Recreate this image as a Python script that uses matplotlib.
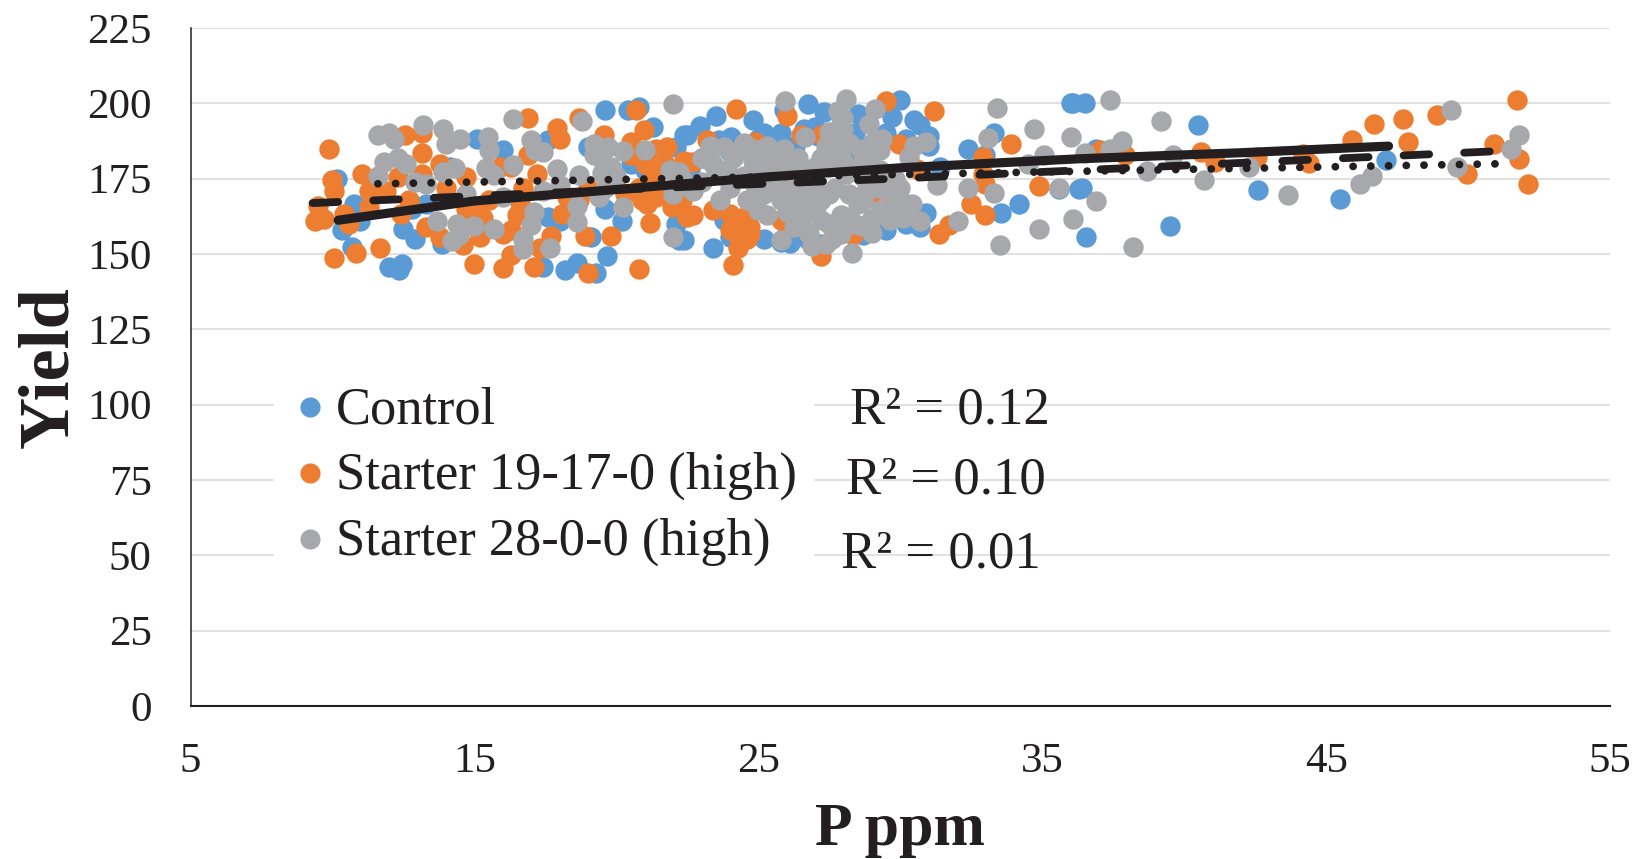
#!/usr/bin/env python3
import matplotlib
matplotlib.use("Agg")
import matplotlib.pyplot as plt
from matplotlib.patches import Rectangle

plt.rcParams["font.family"] = ["Liberation Serif", "DejaVu Sans"]

W, H = 1647, 859

control_x = [10.16, 10.34, 10.98, 10.7, 10.75, 11.98, 12.33, 12.45, 12.9, 12.5, 12.8, 13.3, 13.86, 15.09, 16.0, 14.15,
             17.6, 17.6, 18.0, 17.4, 18.2, 18.6, 19.3, 19.67, 19.6, 20.2, 19.6, 20.4, 20.8, 21.3, 19.1, 19.0, 22.4,
             22.1, 22.1, 22.2, 23.5, 24.8, 26.75, 25.9, 27.3, 28.5, 30.0, 29.7, 30.5, 30.7, 31.0, 22.95, 22.5, 23.6,
             24.05, 25.8, 26.6, 32.4, 33.3, 33.0, 36.0, 31.4, 34.2, 33.55, 36.3, 23.4, 24.0, 25.8, 26.1, 28.7, 29.2,
             30.2, 30.7, 30.9, 22.4, 27.2, 23.8, 35.6, 27.8, 36.1, 36.5, 40.5, 36.9, 36.4, 36.55, 39.5, 42.6, 45.5,
             47.1, 28.0, 28.9, 27.0, 25.2,
             28.1, 29.5, 30.2, 28.4, 27.1, 26.3, 25.0, 24.0, 23.0, 21.0, 22.6, 20.5, 31.0, 26.2, 29.5, 28.2, 25.2, 26.7]
control_y = [175, 157.9, 161, 152.3, 166.7, 145.7, 144.6, 146.8, 155, 158.4, 165, 166.7, 153.4, 188, 184.4, 178.9,
             187.7, 162.3, 161, 145.7, 144.6, 147, 143.7, 149.2, 165, 161, 197.9, 197.7, 198.8, 192.1, 155.6, 185.5,
             189.4, 185.5, 160, 154.5, 195.7, 194.4, 199.7, 197.7, 197, 196.6, 201, 195.5, 194.4, 192.7, 189, 192.4,
             189.4, 187.7, 188.8, 190, 191.6, 184.7, 190.2, 182.7, 200, 178.9, 166.5, 163.7, 171.7, 152, 155.6, 154,
             153.8, 156.2, 159, 160, 159, 163.6, 154.5, 153.4, 161.2, 171.5, 156.7, 200, 200, 192.7, 185, 171.9, 155.6,
             159.2, 171.1, 168.1, 181.1, 190, 186, 192, 190,
             183, 190, 188, 190, 189, 186, 188, 184, 182, 178, 178, 180, 186, 156, 158, 157.5, 155, 155]

starter19_x = [9.87, 10.0, 10.05, 9.5, 9.38, 9.7, 10.05, 10.84, 11.69, 11.04, 11.28, 11.3, 10.6, 10.4, 12.57, 13.16,
               13.16, 12.3, 13.16, 12.4, 13.3, 13.8, 13.8, 14.6, 15.2, 15.0, 16.0, 16.3, 16.9, 17.9, 18.0, 18.7, 16.9,
               17.2, 16.3, 15.9, 16.6, 16.3, 16.0, 17.1, 17.7, 17.3, 19.0, 20.8, 19.55, 19.8, 18.9, 20.7, 20.96, 20.8,
               20.5, 21.05, 21.2, 21.96, 22.5, 21.08, 21.4, 18.1, 18.25, 15.1, 14.7, 21.8, 21.9, 24.2, 26.0, 29.5, 31.2,
               29.94, 26.5, 27.2, 23.2, 24.9, 22.66, 22.37, 24.1, 27.2, 22.7, 23.4, 24.0, 24.6, 24.25, 24.5, 24.0, 24.7,
               25.8, 26.0, 26.25, 27.06, 28.35, 29.0, 31.35, 31.7, 32.5, 33.0, 32.9, 33.0, 32.9, 33.9, 34.9, 30.6,
               37.05, 37.9, 40.6, 41.1, 42.56, 44.2, 44.4, 45.9, 46.7, 47.7, 47.9, 48.9, 49.96, 50.9, 51.74, 51.8, 52.1,
               20.5, 21.0, 21.3, 20.8, 21.5, 22.0, 22.3, 20.9, 21.4, 21.7, 20.0, 20.3, 19.0, 18.7, 18.5, 16.7, 16.5,
               15.3, 14.7, 15.5, 14.0, 12.7, 11.9, 24.2, 24.4, 24.7, 24.3]
starter19_y = [184.7, 174.4, 171, 165.8, 161, 161.7, 148.8, 150.4, 152, 176.7, 171, 165.6, 160, 163.4, 189.6, 190,
               183.5, 175.6, 176.7, 163.4, 159, 180, 155.6, 152.9, 155.6, 146.8, 145.5, 149.6, 195, 191.8, 188, 195,
               182.7, 176.7, 178.9, 178.9, 167, 157.9, 156.8, 145.7, 156, 152, 143.7, 144.9, 189.4, 155.9, 155.9,
               197.7, 191, 184, 187.3, 180, 160.3, 165.6, 162.3, 166.7, 169, 163.4, 169, 165.6, 175.6, 185.5, 169, 198,
               195.7, 200.7, 197.4, 186.4, 189.4, 189.4, 187.9, 187.2, 180.5, 181, 146.3, 149.3, 162.8, 164.5, 157.9,
               155.1, 160, 162.3, 163.4, 159, 161.2, 159, 172, 166.7, 156.2, 170, 156.7, 159.5, 166.7, 162.8, 182.2,
               173.3, 176.7, 186.6, 172.6, 178.3, 184.4, 182.7, 183.8, 180.5, 182.2, 183.3, 180.2, 187.7, 193, 194.9,
               187.2, 196.2, 176.7, 186.6, 201, 181.4, 173.3,
               183, 180, 176, 172, 172, 178, 168, 168, 185, 180, 175, 170, 172, 168, 163, 172, 163,
               162, 165, 168, 172, 168, 171, 157, 155, 156.5, 152]

starter28_x = [11.6, 12.0, 12.16, 13.2, 13.9, 14.0, 14.5, 15.47, 15.5, 16.35, 22.0, 18.8, 17.0, 17.15, 17.4, 17.9, 18.7,
               19.2, 19.7, 20.25, 21.0, 19.55, 19.8, 21.9, 22.2, 11.8, 11.6, 12.3, 12.6, 12.9, 13.3, 13.9, 14.3, 15.4,
               15.7, 16.35, 13.7, 14.4, 15.0, 15.7, 14.45, 14.2, 17.1, 17.0, 16.7, 16.7, 17.65, 18.6, 18.6, 20.25, 22.0,
               17.4, 18.0, 19.6, 19.4, 14.7, 16.0, 25.95, 28.1, 29.1, 27.8, 28.9, 33.4, 34.7, 33.1, 36.0, 30.9, 30.5,
               30.3, 29.35, 29.3, 27.5, 28.0, 24.5, 23.8, 23.25, 25.9, 26.65, 25.4, 26.4, 27.2, 27.9, 28.7, 24.8, 24.1,
               23.4, 22.7, 23.66, 24.6, 25.0, 25.3, 25.8, 26.5, 26.25, 26.8, 27.2, 27.4, 27.9, 28.3, 28.65, 28.2, 28.5,
               28.8, 29.3, 29.65, 30.0, 30.4, 30.7, 29.65, 27.5, 27.0, 29.5, 25.8, 32.05, 31.3, 32.4, 33.3, 33.5, 34.9,
               36.1, 35.6, 34.5, 35.05, 28.1, 27.5, 27.0, 28.7, 26.0, 37.4, 36.5, 37.4, 37.8, 39.2, 39.6, 36.9, 38.2,
               38.7, 40.7, 42.3, 43.65, 46.2, 46.6, 49.4, 49.6, 51.5, 51.8,
               23.9, 24.5, 25.0, 25.5, 26.0, 26.5, 27.0, 27.5, 28.0, 28.4, 28.9, 29.3, 29.8, 30.0,
               25.2, 25.7, 26.2, 26.7, 27.2, 27.7, 28.2, 28.7, 29.2, 29.6, 30.1,
               26.0, 26.5, 27.0, 27.5, 27.9, 28.4, 29.0, 29.0, 27.6, 26.9,
               27.4, 27.7, 28.2, 28.6, 29.0, 27.9, 28.0,
               24.2, 24.8, 25.3, 23.5, 23.0, 24.0, 24.9, 25.3,
               19.2, 19.5, 20.0, 22.3, 22.0, 23.0, 23.3]
starter28_y = [189.6, 190, 188, 192.7, 191.6, 186.6, 188, 188.8, 184.4, 194.9, 199.7, 194.1, 187.7, 184.4, 183.8, 178.3,
               176.1, 186.6, 185.5, 184.2, 184.4, 180, 178.9, 177.8, 177.2, 180.5, 176, 182, 180, 173.9, 173.3, 177.2,
               178.6, 178.6, 176.1, 179.4, 161, 160, 159.3, 158.2, 156.2, 154.2, 164, 159.5, 155.1, 151.8, 152, 160.6,
               166, 165.6, 155.6, 171, 173, 172, 169, 170, 168.9, 200.7, 201.3, 198.2, 197.5, 193.3, 198.5, 191.4,
               188.6, 188.8, 187.2, 186, 182.2, 188.3, 184.4, 190.5, 191, 186.9, 185.5, 183.8, 185, 188.8, 183.3, 182,
               182, 184.4, 181, 181, 182, 180, 171, 167.8, 167.8, 164.5, 162.8, 167.8, 165.6, 159, 156.7, 161.2, 153.4,
               156.7, 150.4, 159.3, 162.3, 166.7, 171, 164.5, 161.2, 172, 166.7, 161, 170, 170, 172, 176.7, 154.8,
               160.8, 172.8, 171.9, 170.2, 152.9, 158.2, 161.5, 171.9, 180, 182.7, 176.7, 178.9, 178.9, 175.6, 174.4,
               201, 183.5, 185, 187.5, 194.1, 183, 167.5, 152.3, 177.5, 174.7, 179, 169.7, 173.3, 175.9, 197.9, 179,
               185, 189.4,
               178, 176, 178, 180, 180, 178, 178, 183, 181, 178, 180, 178, 175, 168,
               170, 172, 170, 170, 168, 172, 170, 168, 172, 166, 162,
               164, 160, 164, 160, 163, 160, 162, 157, 155, 152.5,
               186, 188, 187, 185, 187, 193, 195,
               184, 185, 186, 177, 174, 172, 173, 176,
               183, 177, 176, 175, 170, 182, 186]

trend_control_x = [10.2, 15, 20.25, 25.2, 30, 36.3, 42, 47.2]
trend_control_y = [161.2, 167.6, 171.6, 175.5, 178.6, 181.6, 183.6, 185.8]
trend_19_x = [9.3, 22.25, 29.8, 38.2, 51.2]
trend_19_y = [166.9, 172.2, 175, 178.6, 184.2]
trend_28_x = [11.6, 51.5]
trend_28_y = [173.3, 180]

series_names = ["Control", "Starter 19-17-0 (high)", "Starter 28-0-0 (high)"]
r2_labels = ["R² = 0.12", "R² = 0.10", "R² = 0.01"]
series_colors = ["#5B9BD5", "#ED7D31", "#A7A8AB"]
ink = "#231F20"

fig = plt.figure(figsize=(W / 100, H / 100), dpi=100)
ax = fig.add_axes([190.5 / W, (H - 706) / H, (1610 - 190.5) / W, (706 - 28) / H])

ax.scatter(control_x, control_y, s=215, color=series_colors[0], lw=0, zorder=3, clip_on=False)
ax.scatter(starter19_x, starter19_y, s=215, color=series_colors[1], lw=0, zorder=4, clip_on=False)
ax.scatter(starter28_x, starter28_y, s=215, color=series_colors[2], lw=0, zorder=5, clip_on=False)

ax.plot(trend_28_x, trend_28_y, color=ink, lw=5.6, dash_capstyle="round", dashes=(0.01, 2.27), zorder=6)
ax.plot(trend_19_x, trend_19_y, color=ink, lw=5.6, dash_capstyle="round", dashes=(3.3, 4.5), zorder=6)
ax.plot(trend_control_x, trend_control_y, color=ink, lw=6.6, solid_capstyle="round", zorder=7)

ax.set_xlim(5, 55)
ax.set_ylim(0, 225)
ax.set_xticks(range(5, 56, 10))
ax.set_yticks(range(0, 226, 25))
ax.tick_params(length=0, labelsize=31, labelcolor=ink)
ax.tick_params(axis="x", pad=26)
ax.tick_params(axis="y", pad=28)
ax.grid(True, axis="y", color="#DCDCDC", lw=1.2, zorder=1)
ax.set_axisbelow(True)
ax.spines["top"].set_visible(False)
ax.spines["right"].set_visible(False)
ax.spines["left"].set_color(ink)
ax.spines["left"].set_linewidth(1.1)
ax.spines["bottom"].set_color(ink)
ax.spines["bottom"].set_linewidth(1.5)

# legend sits on a white box that hides the gridlines
fig.add_artist(Rectangle((274 / W, 1 - 590 / H), 540 / W, 210 / H, transform=fig.transFigure,
                         fc="white", ec="none", zorder=2))

baselines = [423, 489, 555]
r2_left = [850, 846, 841]
r2_base = [424, 494, 567]
for i in range(3):
    fig.add_artist(plt.Line2D([310 / W], [1 - (baselines[i] - 16) / H], marker="o", ms=14.5, mew=0,
                              color=series_colors[i], transform=fig.transFigure, zorder=3))
    fig.text(336 / W, 1 - baselines[i] / H, series_names[i], fontsize=37.8, color=ink, va="baseline", zorder=3)
    fig.text(r2_left[i] / W, 1 - r2_base[i] / H, r2_labels[i], fontsize=38, color=ink, va="baseline", zorder=3)

fig.text(900 / W, 1 - 845 / H, "P ppm", fontsize=44.5, fontweight="bold", color=ink, ha="center", va="baseline")
fig.text(67 / W, 1 - 367 / H, "Yield", fontsize=52, fontweight="bold", color=ink, rotation=90,
         ha="center", va="baseline", rotation_mode="anchor")

fig.savefig("out.png", dpi=100)
